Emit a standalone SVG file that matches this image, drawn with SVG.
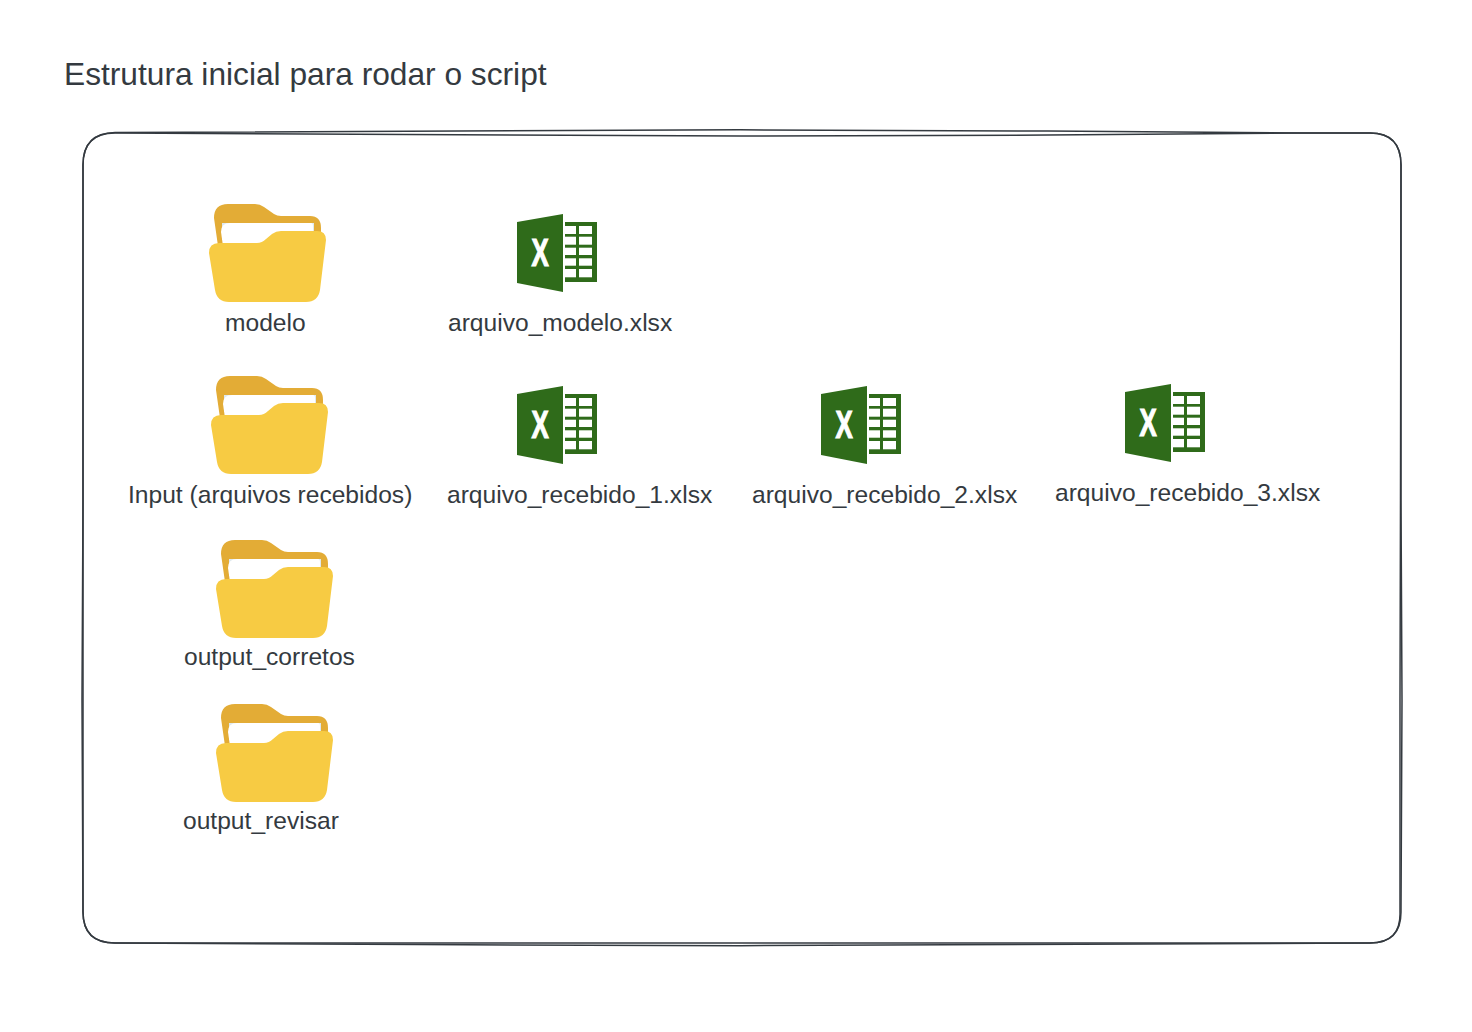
<svg xmlns="http://www.w3.org/2000/svg" width="1472" height="1032" viewBox="0 0 1472 1032">
<style>
text{font-family:"Liberation Sans",Arial,sans-serif;fill:#343a40;font-size:24.6px}
.title{font-size:31.7px}
.frame{fill:none;stroke:#343a40;stroke-width:1.5;stroke-linecap:round}
.fb{fill:#e3ac36}.fp{fill:#fff}.fe{fill:#dfe9ef}.ff{fill:#f7cb43}
.xg{fill:#2f6b1a}.xw{fill:#fff}
.xt{font-family:"Liberation Sans",Arial,sans-serif;font-weight:700;font-size:38px;fill:#fff;stroke:#fff;stroke-width:1.2px}
</style>
<defs>
<g id="folder">
<path class="fb" d="M5 14Q5 0 19 0H46Q51 0 55 3L65 10Q68 12 72 12H101Q112 12 112 24V42H9Z"/>
<path class="fe" d="M13 19H105V36H13Z"/>
<path class="fp" d="M12 28Q12 19 21 19H102Q104 19 104 22V42H14Z"/>
<path class="ff" d="M0 49Q0 39 10 39H48Q53 39 57 35L63 30Q67 27 72 27H108Q117 27 117 36L111 86Q109 98 97 98H20Q8 98 6 86Z"/>
</g>
<g id="xlsx">
<path class="xg" d="M0 8L46 0V78L0 69Z"/>
<rect class="xg" x="48" y="8" width="32" height="60"/>
<g class="xw">
<rect x="48" y="12" width="11" height="8"/><rect x="62" y="12" width="13" height="8"/>
<rect x="48" y="22.700" width="11" height="8"/><rect x="62" y="22.700" width="13" height="8"/>
<rect x="48" y="33.700" width="11" height="7.300"/><rect x="62" y="33.700" width="13" height="7.300"/>
<rect x="48" y="44.300" width="11" height="7.400"/><rect x="62" y="44.300" width="13" height="7.400"/>
<rect x="48" y="55" width="11" height="8.300"/><rect x="62" y="55" width="13" height="8.300"/>
</g>
<text class="xt" transform="translate(23 52) scale(.68 1)" text-anchor="middle">X</text>
</g>
</defs>
<rect width="1472" height="1032" fill="#fff"/>
<text id="title" class="title" x="64" y="85">Estrutura inicial para rodar o script</text>
<g id="frame">
<path class="frame" d="M83 165Q83 133 115 132.500C300 130 500 129.800 740 129.800C950 130 1100 131.500 1300 133L1370 133Q1401 133 1401 165L1400.500 500L1400 700L1400 912Q1401 943 1370 943C1100 942.500 900 942.500 700 943L115 943Q83 943 83 912L83 500Z"/>
<path class="frame" d="M83 165Q83 133 115 133C300 134 500 135.500 740 136C950 136 1100 135 1300 133L1370 133Q1401 133 1401 165L1401 500L1402 700L1401 912Q1401 943 1370 943C1150 943 950 945 740 945.700C500 945.500 350 944 115 943Q83 943 83 912L82 700L83 500Z"/>
</g>
<g id="connectors"/>
<g id="node-modelo"><use href="#folder" x="209" y="204"/><text x="225" y="331">modelo</text></g>
<g id="node-arquivo-modelo"><use href="#xlsx" x="517" y="214"/><text x="448" y="331">arquivo_modelo.xlsx</text></g>
<g id="node-input"><use href="#folder" x="211" y="376"/><text x="128" y="503">Input (arquivos recebidos)</text></g>
<g id="node-recebido-1"><use href="#xlsx" x="517" y="386"/><text x="447" y="503">arquivo_recebido_1.xlsx</text></g>
<g id="node-recebido-2"><use href="#xlsx" x="821" y="386"/><text x="752" y="503">arquivo_recebido_2.xlsx</text></g>
<g id="node-recebido-3"><use href="#xlsx" x="1125" y="384"/><text x="1055" y="501">arquivo_recebido_3.xlsx</text></g>
<g id="node-corretos"><use href="#folder" x="216" y="540"/><text x="184" y="665">output_corretos</text></g>
<g id="node-revisar"><use href="#folder" x="216" y="704"/><text x="183" y="829">output_revisar</text></g>
</svg>
